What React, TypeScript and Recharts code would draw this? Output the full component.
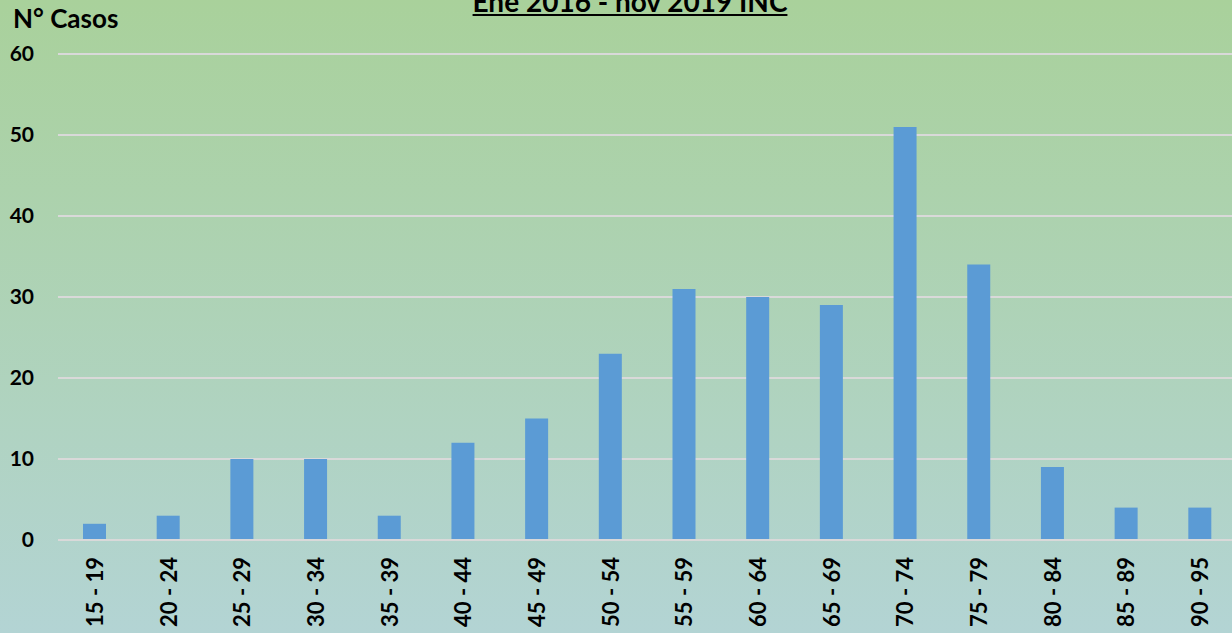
import { Bar, BarChart, CartesianGrid, XAxis, YAxis } from "recharts";

const AGE_GROUPS = [
  "15 - 19", "20 - 24", "25 - 29", "30 - 34", "35 - 39", "40 - 44", "45 - 49", "50 - 54",
  "55 - 59", "60 - 64", "65 - 69", "70 - 74", "75 - 79", "80 - 84", "85 - 89", "90 - 95",
];
const CASES = [2, 3, 10, 10, 3, 12, 15, 23, 31, 30, 29, 51, 34, 9, 4, 4];
const Y_TICKS = [0, 10, 20, 30, 40, 50, 60];

const TITLE = "Ene 2016 - nov 2019 INC";
const Y_LABEL = "N° Casos";

const FONT = "Lato, 'Open Sans', sans-serif";
const BAR_FILL = "#5b9bd5";
const GRID = "#d9d9d9";

const data = AGE_GROUPS.map((name, i) => ({ name, casos: CASES[i] }));

function YTick({ y, payload }: { y?: number; payload?: { value: number } }) {
  return (
    <text x={34} y={y} dy={7} textAnchor="end" fontFamily={FONT} fontWeight={700} fontSize={21} fill="#000">
      {payload?.value}
    </text>
  );
}

function XTick({ x, payload }: { x?: number; payload?: { value: string } }) {
  return (
    <text
      x={0}
      y={0}
      transform={`translate(${(x ?? 0) + 8}, 557) rotate(-90)`}
      textAnchor="end"
      fontFamily={FONT}
      fontWeight={700}
      fontSize={22}
      fill="#000"
    >
      {payload?.value}
    </text>
  );
}

export default function App() {
  return (
    <div
      style={{
        position: "fixed",
        left: 0,
        top: 0,
        width: 1232,
        height: 633,
        overflow: "hidden",
        background: "linear-gradient(to bottom, #a9d19b 0%, #b3d4d4 100%)",
        fontFamily: FONT,
      }}
    >
      <div
        style={{
          position: "absolute",
          left: 630,
          top: -16,
          transform: "translateX(-50%)",
          fontSize: 28,
          fontWeight: 700,
          textDecoration: "underline",
          whiteSpace: "nowrap",
          color: "#000",
        }}
      >
        {TITLE}
      </div>
      <div
        style={{
          position: "absolute",
          left: 13,
          top: 2,
          fontSize: 26,
          fontWeight: 700,
          whiteSpace: "nowrap",
          color: "#000",
        }}
      >
        {Y_LABEL}
      </div>
      <div style={{ position: "absolute", left: 0, top: 0 }}>
        <BarChart
          width={1237}
          height={633}
          data={data}
          margin={{ top: 54, right: 0, bottom: 0, left: 0 }}
          barCategoryGap={0}
        >
          <CartesianGrid horizontal vertical={false} stroke={GRID} strokeWidth={2} />
          <XAxis
            dataKey="name"
            height={93}
            interval={0}
            tick={<XTick />}
            axisLine={{ stroke: GRID, strokeWidth: 2 }}
            tickLine={false}
          />
          <YAxis
            width={58}
            domain={[0, 60]}
            ticks={Y_TICKS}
            tick={<YTick />}
            axisLine={false}
            tickLine={false}
          />
          <Bar dataKey="casos" fill={BAR_FILL} barSize={23} isAnimationActive={false} />
        </BarChart>
      </div>
    </div>
  );
}
